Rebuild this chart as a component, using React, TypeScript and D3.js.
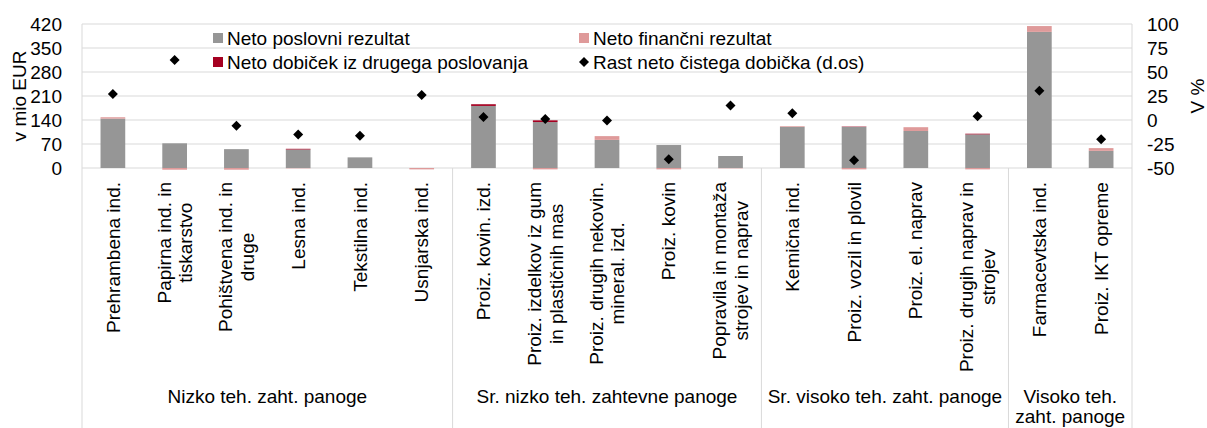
import * as d3 from "d3";
import React from "react";

const categories = [
  "Prehrambena ind.",
  "Papirna ind. in\ntiskarstvo",
  "Pohištvena ind. in\ndruge",
  "Lesna ind.",
  "Tekstilna ind.",
  "Usnjarska ind.",
  "Proiz. kovin. izd.",
  "Proiz. izdelkov iz gum\nin plastičnih mas",
  "Proiz. drugih nekovin.\nmineral. izd.",
  "Proiz. kovin",
  "Popravila in montaža\nstrojev in naprav",
  "Kemična ind.",
  "Proiz. vozil in plovil",
  "Proiz. el. naprav",
  "Proiz. drugih naprav in\nstrojev",
  "Farmacevtska ind.",
  "Proiz. IKT opreme",
];

const groups = [
  { name: "Nizko teh. zaht. panoge", size: 6 },
  { name: "Sr. nizko teh. zahtevne panoge", size: 5 },
  { name: "Sr. visoko teh. zaht. panoge", size: 4 },
  { name: "Visoko teh.\nzaht. panoge", size: 2 },
];

// v mio EUR
const poslovni = [144, 72, 55, 54, 31, 0, 181, 134, 82, 67, 35, 120, 120, 108, 98, 397, 50];
const financni = [4, -5, -5, -1, 0, -4, 0, -4, 11, -4, -1, 2, -4, 11, -4, 17, 8];
const drugo = [0, 0, 0, 2, 0, 0, 5, 5, 0, 0, 0, 0, 1, 0, 2, 0, 0];
// v %
const rast = [27, 62.5, -6, -15, -16.5, 26, 3, 1, -0.5, -41, 15, 7, -42, null, 4, 30.5, -20];

const leftTicks = [0, 70, 140, 210, 280, 350, 420];
const rightTicks = [-50, -25, 0, 25, 50, 75, 100];

const seriesNames = ["Neto poslovni rezultat", "Neto finančni rezultat", "Neto dobiček iz drugega poslovanja"];
const seriesColors = ["#969696", "#df9a9a", "#a50021"];
const diamondName = "Rast neto čistega dobička (d.os)";

const W = 1207;
const H = 428;
const margin = { top: 24, right: 75, left: 82 };
const plotBottom = 168;
const font = "'Liberation Sans', Arial, sans-serif";
const fs = 19;
const grid = "#d9d9d9";

function measure(text: string) {
  const c = document.createElement("canvas").getContext("2d");
  if (!c) return text.length * fs * 0.5;
  c.font = `${fs}px ${font}`;
  return c.measureText(text).width;
}

export default function App() {
  const idx = categories.map((_, i) => i);
  const x = d3
    .scaleBand<number>()
    .domain(idx)
    .range([margin.left, W - margin.right])
    .paddingInner(0.6)
    .paddingOuter(0.3);
  const step = x.step();
  const y = d3.scaleLinear().domain([0, 420]).range([plotBottom, margin.top]);
  const y2 = d3.scaleLinear().domain([-50, 100]).range([plotBottom, margin.top]);

  const table = idx.map((i) => ({ i, a: poslovni[i], b: financni[i], c: drugo[i] }));
  const stack = d3
    .stack<any>()
    .keys(["a", "b", "c"])
    .offset(d3.stackOffsetDiverging)(table);

  // square turned 45deg, like the Excel diamond marker
  const diamond = d3.symbol().type(d3.symbolSquare).size(50);

  let acc = 0;
  const groupBounds = groups.map((g) => {
    const start = margin.left + acc * step;
    acc += g.size;
    return { ...g, start, end: margin.left + acc * step };
  });

  const legendItems = [
    { kind: "rect", color: seriesColors[0], label: seriesNames[0], x: 213, y: 38 },
    { kind: "rect", color: seriesColors[1], label: seriesNames[1], x: 579, y: 38 },
    { kind: "rect", color: seriesColors[2], label: seriesNames[2], x: 213, y: 62 },
    { kind: "diamond", color: "#000", label: diamondName, x: 579, y: 62 },
  ];

  return (
    <div style={{ position: "absolute", left: 0, top: 0 }}>
      <svg width={W} height={H} style={{ display: "block", fontFamily: font }}>
        <rect width={W} height={H} fill="#fff" />

        {leftTicks.map((t) => (
          <line key={t} x1={margin.left} x2={W - margin.right} y1={y(t)} y2={y(t)} stroke={grid} />
        ))}
        <line x1={margin.left} x2={margin.left} y1={margin.top} y2={H} stroke={grid} />
        <line x1={W - margin.right} x2={W - margin.right} y1={margin.top} y2={H} stroke={grid} />
        {groupBounds.slice(0, -1).map((g) => (
          <line key={g.name} x1={g.end} x2={g.end} y1={plotBottom} y2={H} stroke={grid} />
        ))}

        {stack.map((s, si) =>
          s.map((d) => {
            const h = Math.abs(y(d[0]) - y(d[1]));
            if (h < 0.01) return null;
            return (
              <rect
                key={`${si}-${d.data.i}`}
                x={x(d.data.i)}
                width={x.bandwidth()}
                y={Math.min(y(d[0]), y(d[1]))}
                height={h}
                fill={seriesColors[si]}
              />
            );
          })
        )}

        {rast.map((v, i) =>
          v == null ? null : (
            <path
              key={i}
              d={diamond() || ""}
              transform={`translate(${x(i)! + x.bandwidth() / 2},${y2(v)}) rotate(45)`}
              fill="#000"
            />
          )
        )}

        {leftTicks.map((t) => (
          <text key={t} x={62} y={y(t)} dy="0.35em" textAnchor="end" fontSize={fs} fill="#000">
            {t}
          </text>
        ))}
        {rightTicks.map((t) => (
          <text key={t} x={1147} y={y2(t)} dy="0.35em" textAnchor="start" fontSize={fs} fill="#000">
            {t}
          </text>
        ))}
        <text transform={`translate(19,${(margin.top + plotBottom) / 2}) rotate(-90)`} dy="0.35em" textAnchor="middle" fontSize={fs}>
          v mio EUR
        </text>
        <text transform={`translate(1197,${(margin.top + plotBottom) / 2}) rotate(-90)`} dy="0.35em" textAnchor="middle" fontSize={fs}>
          V %
        </text>

        {categories.map((c, i) => {
          const lines = c.split("\n");
          const maxW = Math.max(...lines.map(measure));
          const cx = x(i)! + x.bandwidth() / 2;
          const lh = 21.5;
          return (
            <g key={i} transform={`translate(${cx},182) rotate(-90)`}>
              {lines.map((l, li) => (
                <text
                  key={li}
                  x={-maxW / 2}
                  y={(li - (lines.length - 1) / 2) * lh}
                  dy="0.35em"
                  textAnchor="middle"
                  fontSize={fs}
                >
                  {l}
                </text>
              ))}
            </g>
          );
        })}

        {groupBounds.map((g) => {
          const lines = g.name.split("\n");
          return lines.map((l, li) => (
            <text key={g.name + li} x={(g.start + g.end) / 2} y={403 + li * 20} textAnchor="middle" fontSize={fs}>
              {l}
            </text>
          ));
        })}

        {legendItems.map((it) => (
          <g key={it.label}>
            {it.kind === "rect" ? (
              <rect x={it.x} y={it.y - 5} width={10} height={10} fill={it.color} />
            ) : (
              <path d={diamond() || ""} transform={`translate(${it.x + 5},${it.y}) rotate(45)`} fill="#000" />
            )}
            <text x={it.x + 14} y={it.y} dy="0.35em" fontSize={fs}>
              {it.label}
            </text>
          </g>
        ))}
      </svg>
    </div>
  );
}
